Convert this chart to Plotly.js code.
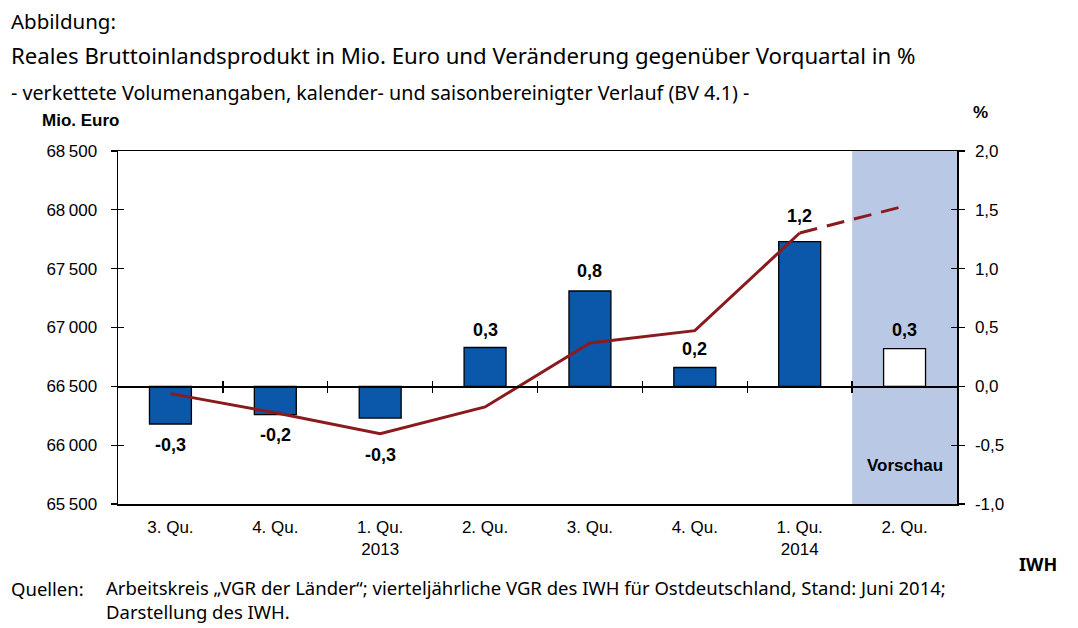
<!DOCTYPE html>
<html>
<head>
<meta charset="utf-8">
<script src="https://cdn.plot.ly/plotly-3.0.1.min.js"></script>
<style>html,body{margin:0;padding:0;background:#fff;}#chart{width:1078px;height:628px;}</style>
</head>
<body>
<div id="chart"></div>
<script>
// ---- data ----
var quarterLabels = ["3. Qu.", "4. Qu.", "1. Qu.<br>2013", "2. Qu.", "3. Qu.", "4. Qu.", "1. Qu.<br>2014", "2. Qu."];
var changePct = [-0.32, -0.24, -0.27, 0.33, 0.81, 0.16, 1.23, 0.32];     // bars, % vs. previous quarter
var changeLabels = ["-0,3", "-0,2", "-0,3", "0,3", "0,8", "0,2", "1,2", "0,3"];
var gdpActual = [66438, 66275, 66097, 66325, 66868, 66973, 67803];          // Mio. Euro, quarters 1-7
var gdpForecast = [67803, 68032];                                           // Mio. Euro, quarters 7-8 (Vorschau)
var leftTickVals = [65500, 66000, 66500, 67000, 67500, 68000, 68500];
var leftTickText = ["65\u2009500", "66\u2009000", "66\u2009500", "67\u2009000", "67\u2009500", "68\u2009000", "68\u2009500"];
var rightTickVals = [-1, -0.5, 0, 0.5, 1, 1.5, 2];
var rightTickText = ["-1,0", "-0,5", "0,0", "0,5", "1,0", "1,5", "2,0"];

// ---- styles ----
var barBlue = "#0b57a9";
var lineRed = "#8b1a1e";
var shadeBlue = "#b9c9e5";
var labelShift = [-21, -20, -37, 18, 20, 19, 26, 19];
var futura = "'Noto Sans', Lato, sans-serif";
var arial = "'Liberation Sans', Arial, sans-serif";

var xIdx = quarterLabels.map(function (_, i) { return i; });
var boundaries = xIdx.slice(0, -1).map(function (i) { return i + 0.5; });
var barColors = changePct.map(function (_, i) { return i === changePct.length - 1 ? "#ffffff" : barBlue; });

var traces = [
  { type: "bar", x: xIdx, y: changePct, xaxis: "x", yaxis: "y", width: 0.4,
    marker: { color: barColors, line: { color: "#000", width: 1.3 } }, hoverinfo: "skip" },
  { type: "scatter", mode: "lines", x: xIdx.slice(0, gdpActual.length), y: gdpActual, xaxis: "x", yaxis: "y2",
    line: { color: lineRed, width: 3 }, hoverinfo: "skip" },
  { type: "scatter", mode: "lines", x: [gdpActual.length - 1, gdpActual.length], y: gdpForecast, xaxis: "x", yaxis: "y2",
    line: { color: lineRed, width: 3, dash: "18px,10px" }, hoverinfo: "skip" },
  { type: "scatter", mode: "lines", x: [null], y: [null], xaxis: "x2", yaxis: "y", hoverinfo: "skip" },
  { type: "scatter", mode: "lines", x: [null], y: [null], xaxis: "x3", yaxis: "y", hoverinfo: "skip" },
  { type: "scatter", mode: "lines", x: [null], y: [null], xaxis: "x", yaxis: "y3", hoverinfo: "skip" },
  { type: "scatter", mode: "lines", x: [null], y: [null], xaxis: "x", yaxis: "y4", hoverinfo: "skip" }
];

var W = 1078, H = 628, ML = 118, MR = 120.5, MT = 151, MB = 123.7;
var PW = W - ML - MR, PH = H - MT - MB;
function px(x) { return (x - ML) / PW; }
function py(y) { return (H - MB - y) / PH; }

var annotations = [];
changeLabels.forEach(function (t, i) {
  annotations.push({ xref: "x", yref: "y", x: i, y: changePct[i], yshift: labelShift[i], text: t, showarrow: false,
    xanchor: "center", yanchor: "middle", font: { family: arial, size: 18, color: "#000", weight: "bold" } });
});
annotations.push({ xref: "x", yref: "paper", x: 7, y: py(466), text: "Vorschau", showarrow: false,
  xanchor: "center", yanchor: "middle", font: { family: arial, size: 17, color: "#000", weight: "bold" } });
annotations.push({ xref: "paper", yref: "paper", x: px(9), y: py(21), text: "Abbildung:", showarrow: false,
  xanchor: "left", yanchor: "middle", font: { family: futura, size: 20.5, color: "#000" } });
annotations.push({ xref: "paper", yref: "paper", x: px(9), y: py(55), text: "Reales Bruttoinlandsprodukt in Mio. Euro und Veränderung gegenüber Vorquartal in %", showarrow: false,
  xanchor: "left", yanchor: "middle", font: { family: futura, size: 22.2, color: "#000" } });
annotations.push({ xref: "paper", yref: "paper", x: px(9), y: py(92), text: "- verkettete Volumenangaben, kalender- und saisonbereinigter Verlauf (BV 4.1) -", showarrow: false,
  xanchor: "left", yanchor: "middle", font: { family: futura, size: 19.7, color: "#000" } });
annotations.push({ xref: "paper", yref: "paper", x: px(40), y: py(120), text: "Mio. Euro", showarrow: false,
  xanchor: "left", yanchor: "middle", font: { family: arial, size: 17, color: "#000", weight: "bold" } });
annotations.push({ xref: "paper", yref: "paper", x: px(972), y: py(112), text: "%", showarrow: false,
  xanchor: "left", yanchor: "middle", font: { family: arial, size: 17, color: "#000", weight: "bold" } });
annotations.push({ xref: "paper", yref: "paper", x: px(1060), y: py(564), text: "IWH", showarrow: false,
  xanchor: "right", yanchor: "middle", font: { family: futura, size: 18, color: "#000", weight: "bold" } });
annotations.push({ xref: "paper", yref: "paper", x: px(9), y: py(589), text: "Quellen:", showarrow: false,
  xanchor: "left", yanchor: "middle", font: { family: futura, size: 18.5, color: "#000" } });
annotations.push({ xref: "paper", yref: "paper", x: px(104), y: py(600), align: "left",
  text: "Arbeitskreis „VGR der Länder“; vierteljährliche VGR des IWH für Ostdeutschland, Stand: Juni 2014;<br>Darstellung des IWH.", showarrow: false,
  xanchor: "left", yanchor: "middle", font: { family: futura, size: 18.5, color: "#000" } });

var xRange = [-0.5, quarterLabels.length - 0.5];
var tickFont = { family: arial, size: 17, color: "#000" };

var layout = {
  width: W, height: H,
  margin: { l: ML, r: MR, t: MT, b: MB, pad: 0 },
  paper_bgcolor: "#fff", plot_bgcolor: "rgba(0,0,0,0)",
  showlegend: false,
  xaxis: { range: xRange, tickvals: xIdx, ticktext: quarterLabels, ticks: "", showgrid: false, zeroline: false,
    showline: true, mirror: true, linecolor: "#000", linewidth: 1.5, tickfont: tickFont, ticklabelstandoff: 7, fixedrange: true },
  xaxis2: { overlaying: "x", anchor: "free", position: 1 / 3, range: xRange, tickvals: boundaries, ticks: "outside", ticklen: 5,
    tickwidth: 1.3, tickcolor: "#000", showticklabels: false, showgrid: false, zeroline: false, showline: true, linecolor: "#000", linewidth: 1.5 },
  xaxis3: { overlaying: "x", anchor: "free", position: 1 / 3, range: xRange, tickvals: boundaries, ticks: "inside", ticklen: 5,
    tickwidth: 1.3, tickcolor: "#000", showticklabels: false, showgrid: false, zeroline: false, showline: false },
  yaxis: { side: "right", anchor: "x", range: [-1, 2], tickvals: rightTickVals, ticktext: rightTickText, ticks: "outside", ticklen: 6,
    tickwidth: 1.3, tickcolor: "#000", showgrid: false, zeroline: false, showline: true, linecolor: "#000", linewidth: 1.5,
    tickfont: tickFont, ticklabelstandoff: 7 },
  yaxis2: { overlaying: "y", side: "left", anchor: "x", range: [65500, 68500], tickvals: leftTickVals, ticktext: leftTickText, ticks: "outside", ticklen: 6,
    tickwidth: 1.3, tickcolor: "#000", showgrid: false, zeroline: false, showline: true, linecolor: "#000", linewidth: 1.5,
    tickfont: tickFont, ticklabelstandoff: 10 },
  yaxis3: { overlaying: "y", side: "right", anchor: "x", range: [-1, 2], tickvals: rightTickVals, ticks: "inside", ticklen: 6,
    tickwidth: 1.3, tickcolor: "#000", showticklabels: false, showgrid: false, zeroline: false, showline: false },
  yaxis4: { overlaying: "y", side: "left", anchor: "x", range: [65500, 68500], tickvals: leftTickVals, ticks: "inside", ticklen: 6,
    tickwidth: 1.3, tickcolor: "#000", showticklabels: false, showgrid: false, zeroline: false, showline: false },
  shapes: [
    { type: "rect", layer: "below", xref: "x", yref: "paper", x0: quarterLabels.length - 1.5, x1: quarterLabels.length - 0.5, y0: 0, y1: 1,
      fillcolor: shadeBlue, line: { width: 0 } }
  ],
  annotations: annotations
};

Plotly.newPlot("chart", traces, layout, { staticPlot: true, displayModeBar: false });
</script>
</body>
</html>
